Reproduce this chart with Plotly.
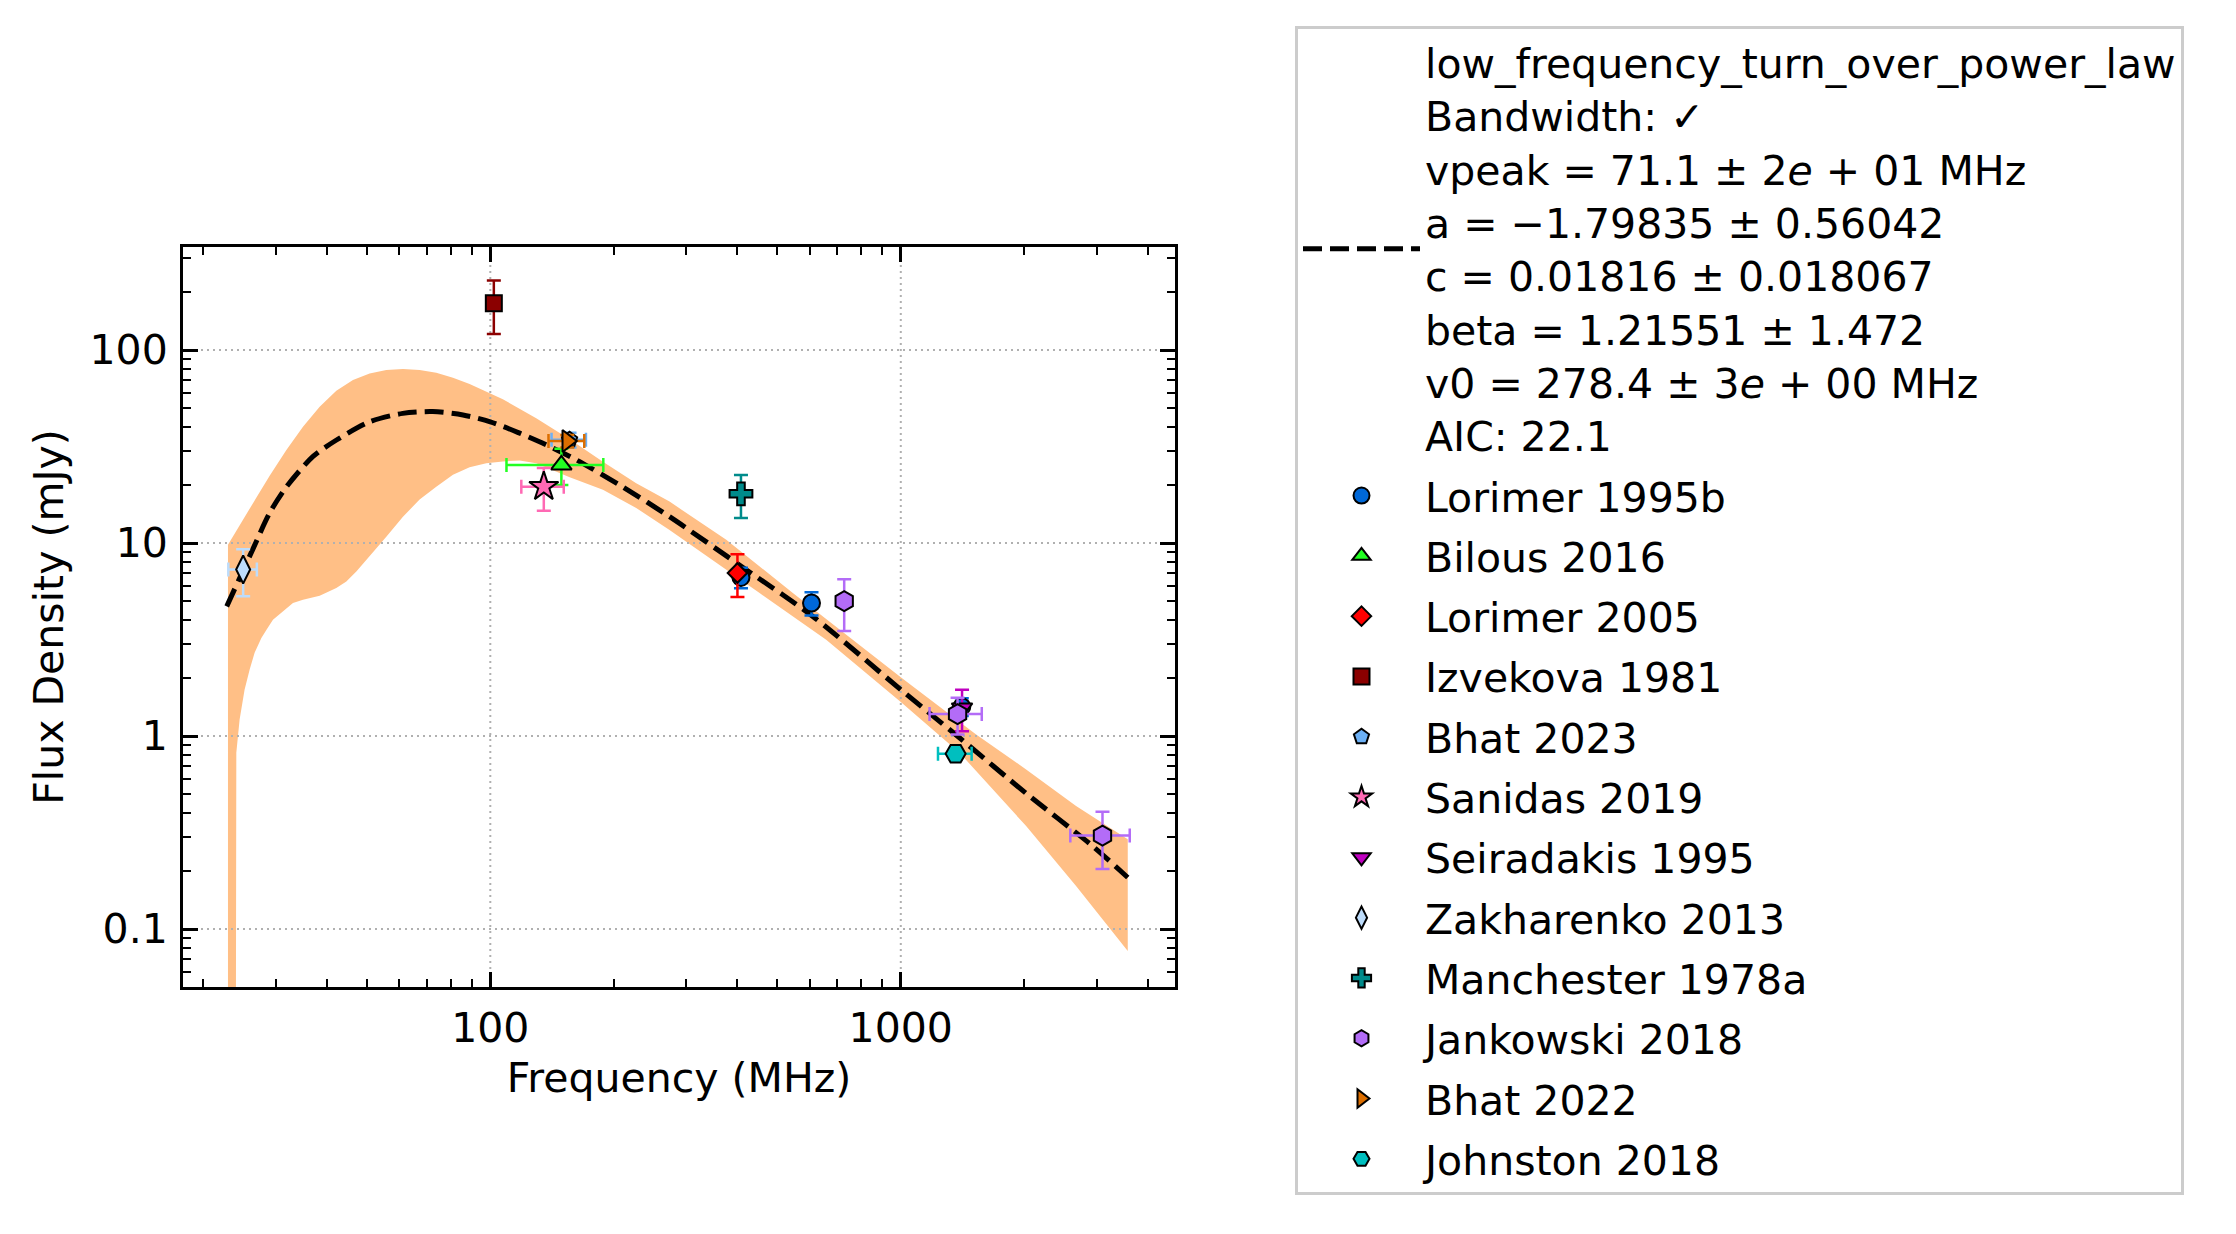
import plotly.graph_objects as go

# ---------------- data ----------------
# Fitted model curve (dashed)
fit_freq = [22.8, 26.4, 29.0, 31.9, 37.0, 42.2, 50.8, 61.2, 72.4, 85.8, 100, 117.9,
            136.9, 162, 206.5, 273.3, 420, 610.6, 1000, 1390, 2020, 2935, 3572]
fit_flux = [4.70, 9.3, 14.3, 19.6, 28.1, 34.2, 42.5, 47.0, 48.0, 46.1, 42.5, 37.1,
            32.3, 27.0, 20.0, 13.7, 7.28, 4.17, 1.74, 0.98, 0.505, 0.269, 0.185]

# Uncertainty band (upper and lower edges)
band_upper_freq = [22.96, 24.06, 26.42, 29.01, 31.86, 34.97, 38.40, 42.16, 46.29, 50.82,
                   55.81, 61.27, 67.27, 73.86, 81.10, 89.04, 97.77, 107.3, 129.4, 156.1,
                   188.1, 226.7, 273.3, 375.7, 545.8, 764, 1000, 1526, 2020, 2673, 3572]
band_upper_flux = [9.80, 11.6, 16.1, 22.3, 30.4, 40.1, 50.9, 61.6, 70.0, 75.7,
                   78.8, 79.7, 78.8, 76.3, 71.9, 66.7, 60.9, 55.6, 44.3, 34.5,
                   26.4, 20.4, 16.4, 10.4, 5.51, 3.16, 2.02, 1.02, 0.672, 0.434, 0.292]
band_lower_freq = [22.96, 24.0, 24.06, 24.51, 25.20, 25.93, 26.66, 27.69, 28.50, 29.55,
                   33.06, 34.97, 38.40, 42.16, 44.60, 47.17, 50.82, 55.81, 61.27, 67.27,
                   73.86, 81.10, 89.04, 97.77, 107.3, 117.9, 129.4, 142, 156.1, 188.1,
                   226.7, 273.3, 452.9, 658, 1000, 1390, 2020, 2673, 3572]
band_lower_flux = [0.03, 0.03, 0.82, 1.22, 1.74, 2.21, 2.70, 3.22, 3.56, 4.01,
                   4.89, 5.09, 5.34, 5.85, 6.33, 7.13, 8.53, 10.8, 13.7, 16.8,
                   19.6, 22.6, 24.7, 25.9, 26.5, 26.8, 25.9, 23.9, 21.9, 18.9,
                   15.2, 11.7, 5.51, 3.16, 1.5, 0.82, 0.342, 0.167, 0.077]

# Measurements
lorimer1995b_freq = [408, 606, 1408]
lorimer1995b_flux = [6.64, 4.89, 1.42]
lorimer1995b_ferr = [None, None, None]
lorimer1995b_serr = [0.8, 0.68, 0.15]

bilous2016_freq = [149]
bilous2016_flux = [25.4]
bilous2016_ferr = [39.5]
bilous2016_serr = [5.4]

lorimer2005_freq = [400]
lorimer2005_flux = [7.0]
lorimer2005_ferr = [None]
lorimer2005_serr = [1.75]

izvekova1981_freq = [102]
izvekova1981_flux = [175]
izvekova1981_ferr = [None]
izvekova1981_serr = [54]

bhat2023_freq = [156]
bhat2023_flux = [34.3]
bhat2023_ferr = [15]
bhat2023_serr = [3]

sanidas2019_freq = [135]
sanidas2019_flux = [19.6]
sanidas2019_ferr = [16]
sanidas2019_serr = [4.9]

seiradakis1995_freq = [1410]
seiradakis1995_flux = [1.4]
seiradakis1995_ferr = [None]
seiradakis1995_serr = [0.34]

zakharenko2013_freq = [25.0]
zakharenko2013_flux = [7.3]
zakharenko2013_ferr = [2.0]
zakharenko2013_serr = [2.0]

manchester1978a_freq = [408]
manchester1978a_flux = [18.0]
manchester1978a_ferr = [None]
manchester1978a_serr = [4.5]

jankowski2018_freq = [728, 1375, 3100]
jankowski2018_flux = [5.0, 1.30, 0.305]
jankowski2018_ferr = [None, 200, 512]
jankowski2018_serr = [1.5, 0.28, 0.1]

bhat2022_freq = [154]
bhat2022_flux = [33.8]
bhat2022_ferr = [15.4]
bhat2022_serr = [2.5]

johnston2018_freq = [1360]
johnston2018_flux = [0.81]
johnston2018_ferr = [128]
johnston2018_serr = [0.05]

fit_label_lines = [
    "low_frequency_turn_over_power_law",
    "Bandwidth: ✓",
    "vpeak = 71.1 ± 2<i>e</i> + 01 MHz",
    "a = −1.79835 ± 0.56042",
    "c = 0.01816 ± 0.018067",
    "beta = 1.21551 ± 1.472",
    "v0 = 278.4 ± 3<i>e</i> + 00 MHz",
    "AIC: 22.1",
]

x_tick_vals = [100, 1000]
x_tick_text = ["100", "1000"]
y_tick_vals = [0.1, 1, 10, 100]
y_tick_text = ["0.1", "1", "10", "100"]

x_range_log = [1.2514, 3.668]
y_range_log = [-1.300, 2.534]

# ---------------- styles ----------------
series = [
    ("Lorimer 1995b", lorimer1995b_freq, lorimer1995b_flux, lorimer1995b_ferr, lorimer1995b_serr, "circle", "#0068d8", 17),
    ("Bilous 2016", bilous2016_freq, bilous2016_flux, bilous2016_ferr, bilous2016_serr, "triangle-up", "#22ff22", 18),
    ("Lorimer 2005", lorimer2005_freq, lorimer2005_flux, lorimer2005_ferr, lorimer2005_serr, "diamond", "#ff0000", 15),
    ("Izvekova 1981", izvekova1981_freq, izvekova1981_flux, izvekova1981_ferr, izvekova1981_serr, "square", "#8b0000", 16),
    ("Bhat 2023", bhat2023_freq, bhat2023_flux, bhat2023_ferr, bhat2023_serr, "pentagon", "#6cb0f5", 16),
    ("Sanidas 2019", sanidas2019_freq, sanidas2019_flux, sanidas2019_ferr, sanidas2019_serr, "star", "#ff69b4", 22),
    ("Seiradakis 1995", seiradakis1995_freq, seiradakis1995_flux, seiradakis1995_ferr, seiradakis1995_serr, "triangle-down", "#bf00bf", 18),
    ("Zakharenko 2013", zakharenko2013_freq, zakharenko2013_flux, zakharenko2013_ferr, zakharenko2013_serr, "diamond-tall", "#bddcfb", 20),
    ("Manchester 1978a", manchester1978a_freq, manchester1978a_flux, manchester1978a_ferr, manchester1978a_serr, "cross", "#008b8b", 19),
    ("Jankowski 2018", jankowski2018_freq, jankowski2018_flux, jankowski2018_ferr, jankowski2018_serr, "hexagon", "#b36cf7", 20),
    ("Bhat 2022", bhat2022_freq, bhat2022_flux, bhat2022_ferr, bhat2022_serr, "triangle-right", "#dc6e00", 19),
    ("Johnston 2018", johnston2018_freq, johnston2018_flux, johnston2018_ferr, johnston2018_serr, "hexagon2", "#00bfbf", 20),
]

FONT = "DejaVu Sans"
fig = go.Figure()

# Uncertainty band (closed polygon)
fig.add_trace(go.Scatter(
    x=band_upper_freq + band_lower_freq[::-1],
    y=band_upper_flux + band_lower_flux[::-1],
    mode="lines", fill="toself", fillcolor="#ffbf86",
    line=dict(width=0, color="#ffbf86"), showlegend=False, hoverinfo="skip",
))

# Grid lines (drawn above the band, below the curve/markers)
xlo, xhi = 10 ** x_range_log[0], 10 ** x_range_log[1]
ylo, yhi = 10 ** y_range_log[0], 10 ** y_range_log[1]
gx, gy = [], []
for v in x_tick_vals:
    gx += [v, v, None]
    gy += [ylo, yhi, None]
for v in y_tick_vals:
    gx += [xlo, xhi, None]
    gy += [v, v, None]
fig.add_trace(go.Scatter(x=gx, y=gy, mode="lines",
                         line=dict(color="#b0b0b0", width=2, dash="2px,4px"),
                         showlegend=False, hoverinfo="skip"))

# Fitted curve
fig.add_trace(go.Scatter(
    x=fit_freq, y=fit_flux, mode="lines",
    line=dict(color="black", width=5, dash="19px,8px", shape="spline", smoothing=0.8),
    name="<br>".join(fit_label_lines), legendgroup="fit",
))

for name, fx, fy, ferr, serr, sym, col, size in series:
    has_x = any(e is not None for e in ferr)
    fig.add_trace(go.Scatter(
        x=fx, y=fy, mode="markers", name=name, legendgroup=name,
        marker=dict(symbol=sym, color=col, size=size, line=dict(color="black", width=2)),
        error_y=dict(type="data", array=serr, visible=True, color=col, thickness=2.5, width=7),
        error_x=dict(type="data", array=ferr, visible=has_x, color=col, thickness=2.5, width=7),
    ))

def minor_vals(lo, hi):
    out = []
    for e in range(-3, 5):
        for m in range(2, 10):
            v = m * 10 ** e
            if lo < v < hi:
                out.append(v)
    return out

axis_common = dict(
    type="log", showline=True, linecolor="black", linewidth=3, mirror="allticks",
    ticks="inside", ticklen=15, tickwidth=3, tickcolor="black", showgrid=False,
    zeroline=False, tickfont=dict(family=FONT, size=41, color="black"),
)

fig.update_xaxes(
    range=x_range_log, tickmode="array", tickvals=x_tick_vals, ticktext=x_tick_text,
    minor=dict(tickmode="array", tickvals=minor_vals(xlo, xhi), ticks="inside",
               ticklen=8, tickwidth=2, tickcolor="black", showgrid=False),
    title=dict(text="Frequency (MHz)", font=dict(family=FONT, size=41, color="black"), standoff=13),
    ticklabelstandoff=3,
    **axis_common,
)
fig.update_yaxes(
    range=y_range_log, tickmode="array", tickvals=y_tick_vals, ticktext=y_tick_text,
    minor=dict(tickmode="array", tickvals=minor_vals(ylo, yhi), ticks="inside",
               ticklen=8, tickwidth=2, tickcolor="black", showgrid=False),
    title=dict(text="Flux Density (mJy)", font=dict(family=FONT, size=41, color="black"), standoff=14),
    ticklabelstandoff=4,
    **axis_common,
)

W, H = 2236, 1234
ml, mr, mt, mb = 183, 1061, 247, 247
pw, ph = W - ml - mr, H - mt - mb
fig.update_layout(
    width=W, height=H,
    margin=dict(l=ml, r=mr, t=mt, b=mb, pad=0),
    paper_bgcolor="white", plot_bgcolor="white",
    font=dict(family=FONT, size=41, color="black"),
    showlegend=True,
    legend=dict(
        x=(1295 - ml) / pw, y=(H - mb - 26) / ph, xanchor="left", yanchor="top",
        bgcolor="white", bordercolor="#cccccc", borderwidth=3,
        font=dict(family=FONT, size=41, color="black"),
        traceorder="grouped", tracegroupgap=4, itemwidth=117, valign="middle",
        maxheight=1230,
    ),
)

fig.write_html("out.html")
